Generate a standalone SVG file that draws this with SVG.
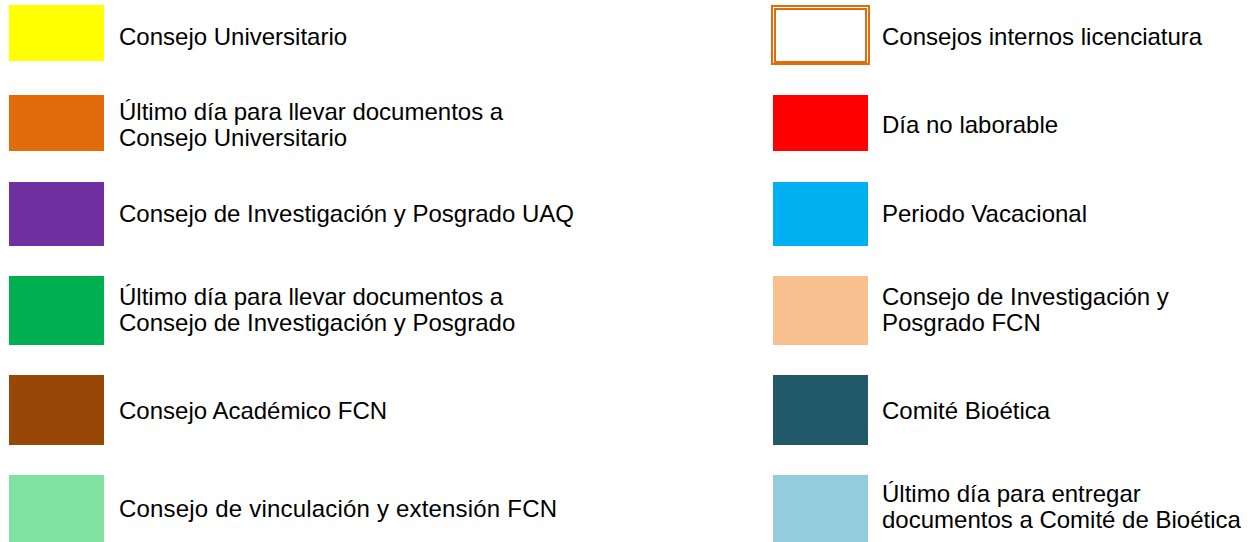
<svg xmlns="http://www.w3.org/2000/svg" width="1251" height="542" viewBox="0 0 1251 542">
<style>
text{font-family:"Liberation Sans",Arial,sans-serif;font-size:24px;fill:#000}
.ob{fill:none;stroke:#E36C0A;stroke-width:2}
</style>
<rect width="1251" height="542" fill="#fff"/>
<g id="consejo-universitario"><rect x="9" y="5" width="95" height="56" fill="#FFFF00"/><text x="119" y="45">Consejo Universitario</text></g>
<g id="ultimo-dia-cu"><rect x="9" y="95" width="95" height="56" fill="#E36C0A"/><text x="119" y="120">Último día para llevar documentos a</text><text x="119" y="146">Consejo Universitario</text></g>
<g id="cip-uaq"><rect x="9" y="182" width="95" height="64" fill="#7030A0"/><text x="119" y="222">Consejo de Investigación y Posgrado UAQ</text></g>
<g id="ultimo-dia-cip"><rect x="9" y="276" width="95" height="69" fill="#00B050"/><text x="119" y="305">Último día para llevar documentos a</text><text x="119" y="331">Consejo de Investigación y Posgrado</text></g>
<g id="consejo-academico"><rect x="9" y="375" width="95" height="70" fill="#974706"/><text x="119" y="419">Consejo Académico FCN</text></g>
<g id="consejo-vinculacion"><rect x="9" y="475" width="95" height="67" fill="#80E2A1"/><text x="119" y="517" textLength="438" lengthAdjust="spacing">Consejo de vinculación y extensión FCN</text></g>
<g id="consejos-internos"><rect class="ob" x="772" y="6" width="97" height="58"/><rect class="ob" x="775" y="9" width="91" height="53"/><text x="882" y="45">Consejos internos licenciatura</text></g>
<g id="dia-no-laborable"><rect x="773" y="95" width="95" height="56" fill="#FF0000"/><text x="882" y="133">Día no laborable</text></g>
<g id="periodo-vacacional"><rect x="773" y="182" width="95" height="64" fill="#00B0F0"/><text x="882" y="222">Periodo Vacacional</text></g>
<g id="cip-fcn"><rect x="773" y="276" width="95" height="69" fill="#F8C08F"/><text x="882" y="305">Consejo de Investigación y</text><text x="882" y="331">Posgrado FCN</text></g>
<g id="comite-bioetica"><rect x="773" y="375" width="95" height="70" fill="#215968"/><text x="882" y="419">Comité Bioética</text></g>
<g id="ultimo-dia-bioetica"><rect x="773" y="475" width="95" height="67" fill="#93CDDD"/><text x="882" y="502">Último día para entregar</text><text x="882" y="528">documentos a Comité de Bioética</text></g>
<g id="connectors"/>
</svg>
